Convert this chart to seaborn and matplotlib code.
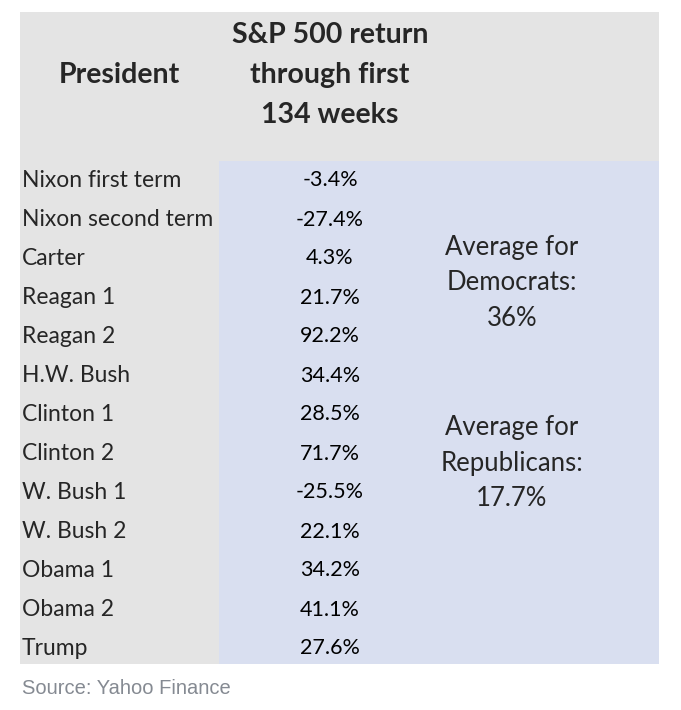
import numpy as np
import pandas as pd
import matplotlib
matplotlib.use("Agg")
import matplotlib.pyplot as plt
import seaborn as sns
from matplotlib.colors import ListedColormap
from matplotlib.patches import Rectangle

presidents = ["Nixon first term", "Nixon second term", "Carter", "Reagan 1",
              "Reagan 2", "H.W. Bush", "Clinton 1", "Clinton 2", "W. Bush 1",
              "W. Bush 2", "Obama 1", "Obama 2", "Trump"]
returns = [-3.4, -27.4, 4.3, 21.7, 92.2, 34.4, 28.5, 71.7, -25.5, 22.1, 34.2, 41.1, 27.6]
header = ["President", "S&P 500 return\nthrough first\n134 weeks"]
avg_dem = ["Average for", "Democrats:", "36%"]
avg_rep = ["Average for", "Republicans:", "17.7%"]
source = "Source: Yahoo Finance"

GRAY = "#e4e4e4"
BLUE = "#d9dff0"

sns.set_theme(style="white")
plt.rcParams["font.family"] = ["Lato", "DejaVu Sans"]

W, H = 681, 710
fig = plt.figure(figsize=(W / 100, H / 100), dpi=100)
ax = fig.add_axes([0, 0, 1, 1])
ax.set_xlim(0, W)
ax.set_ylim(H, 0)
ax.axis("off")

# table background
left, top, right, bottom = 20, 12, 659, 664
body_top, val_left, val_right = 161, 219, 441
row_h = 39
ax.add_patch(Rectangle((left, top), right - left, bottom - top, color=GRAY, lw=0))
ax.add_patch(Rectangle((val_left, body_top), right - val_left, bottom - body_top, color=BLUE, lw=0))

# value column: heatmap with transparent cells, only the annotations show
df = pd.DataFrame({"ret": returns}, index=presidents)
rows_bottom = body_top + row_h * len(presidents)
hax = fig.add_axes([val_left / W, 1 - rows_bottom / H, (val_right - val_left) / W,
                    (rows_bottom - body_top) / H])
sns.heatmap(df, ax=hax, cmap=ListedColormap([(0, 0, 0, 0)]), cbar=False,
            annot=np.array([[f"{v:.1f}%"] for v in returns]), fmt="",
            annot_kws={"fontsize": 15.5, "color": "black"},
            xticklabels=False, yticklabels=False)
hax.axis("off")

for i, name in enumerate(presidents):
    ax.text(22, body_top + (i + 0.5) * row_h, name, fontsize=16.5, ha="left", va="center")

ax.text(119, 75, header[0], fontsize=20.5, fontweight="bold", ha="center", va="center")
ax.text(330, 75, header[1], fontsize=20.5, fontweight="bold", ha="center", va="center",
        linespacing=1.66)

ax.text(512, 283, "\n".join(avg_dem), fontsize=18.5, ha="center", va="center", linespacing=1.53)
ax.text(512, 463, "\n".join(avg_rep), fontsize=18.5, ha="center", va="center", linespacing=1.53)

ax.text(22, 689, source, fontsize=14.5, color="#858a92", ha="left", va="center",
        family=["Liberation Sans"])

fig.savefig("out.png", dpi=100)
